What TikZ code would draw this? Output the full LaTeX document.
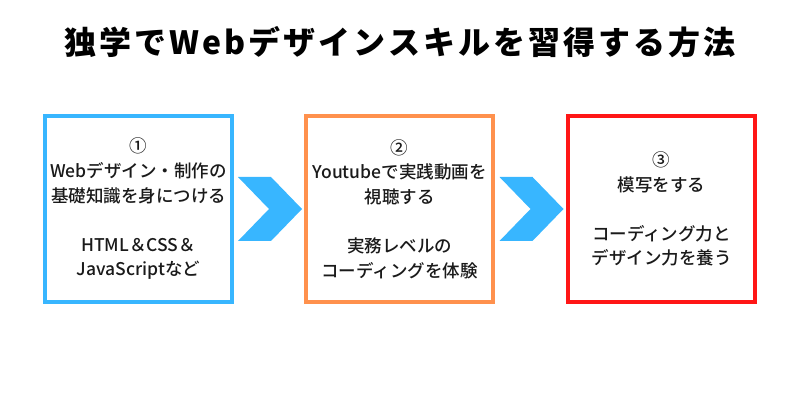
\documentclass[tikz,border=0pt]{standalone}
\usepackage{fontspec}
\setmainfont{Noto Sans CJK JP}
\newfontfamily\bodyfont{Noto Sans CJK JP}[UprightFont=* Medium]
\usetikzlibrary{calc}
\definecolor{bluec}{HTML}{38B6FF}
\definecolor{orangec}{HTML}{FF914D}
\definecolor{redc}{HTML}{FF1616}
\definecolor{txt}{HTML}{1A1A1A}
\tikzset{
  stepbox/.style={draw=#1, line width=4pt, minimum width=187pt, minimum height=186pt,
    inner sep=0pt, align=center, text=txt, font=\bodyfont\fontsize{17.5pt}{24.6pt}\selectfont},
  chev/.style={fill=bluec},
  titletext/.style={font=\bfseries\fontsize{32pt}{36pt}\selectfont\addfontfeature{LetterSpace=9.5}, text=black, inner sep=0pt, anchor=base}
}
\begin{document}
\begin{tikzpicture}[x=1pt,y=-1pt]
\useasboundingbox (0,0) rectangle (800,419);
\node[titletext] (title) at (400,55) {独学でWebデザインスキルを習得する方法};
\node[stepbox=bluec] (b1) at (138.5,209) {①\\Webデザイン・制作の\\基礎知識を身につける\\[24.6pt]HTML＆CSS＆\\JavaScriptなど};
\node[stepbox=orangec] (b2) at (399.5,209) {②\\Youtubeで実践動画を\\視聴する\\[24.6pt]実務レベルの\\コーディングを体験};
\node[stepbox=redc] (b3) at (661.5,209) {③\\模写をする\\[24.6pt]コーディング力と\\デザイン力を養う};
\coordinate (c1) at ($(b1.east)!0.5!(b2.west)+(1,0)$);
\coordinate (c2) at ($(b2.east)!0.5!(b3.west)+(1,0)$);
\foreach \c in {c1,c2}{
  \fill[chev] ($(\c)+(-32,-32)$) -- ($(\c)+(1,-32)$) -- ($(\c)+(32,0)$) -- ($(\c)+(1,32)$) -- ($(\c)+(-32,32)$) -- ($(\c)+(-1,0)$) -- cycle;
}
\end{tikzpicture}
\end{document}
